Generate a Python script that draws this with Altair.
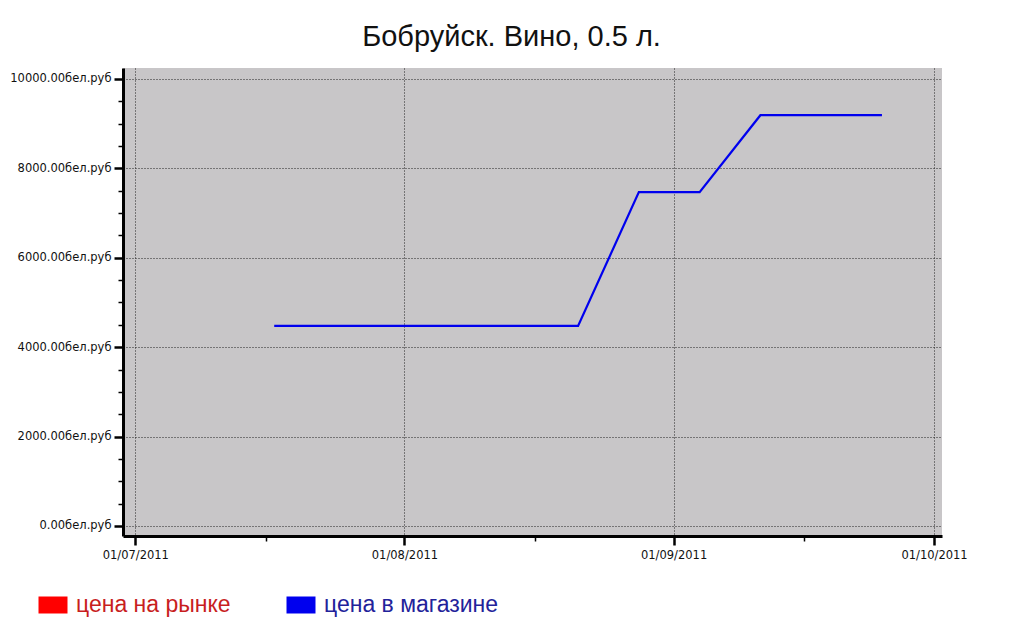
import altair as alt
import pandas as pd

dates = ["2011-07-17", "2011-07-24", "2011-07-31", "2011-08-07", "2011-08-14",
         "2011-08-21", "2011-08-28", "2011-09-04", "2011-09-11", "2011-09-18",
         "2011-09-25"]
shop_prices = [4475, 4475, 4475, 4475, 4475, 4475, 7470, 7470, 9190, 9190, 9190]
series_names = ["цена на рынке", "цена в магазине"]
series_colors = ["#ff0000", "#0000ee"]
title_text = "Бобруйск. Вино, 0.5 л."

df = pd.DataFrame({"date": dates, "price": shop_prices,
                   "series": ["цена в магазине"] * len(dates)})

x_ticks = []
for m in (7, 8, 9):
    x_ticks.append(alt.DateTime(year=2011, month=m, date=1, utc=True))
    x_ticks.append(alt.DateTime(year=2011, month=m, date=16, utc=True))
x_ticks.append(alt.DateTime(year=2011, month=10, date=1, utc=True))

y_ticks = list(range(0, 10001, 500))

x = alt.X(
    "date:T",
    scale=alt.Scale(type="utc", domain=[
        alt.DateTime(year=2011, month=6, date=29, hours=14, utc=True),
        alt.DateTime(year=2011, month=10, date=1, hours=22, utc=True)]),
    axis=alt.Axis(
        title=None, values=x_ticks,
        labelExpr="utcdate(datum.value) === 1 ? utcFormat(datum.value, '%d/%m/%Y') : ''",
        labelFont="DejaVu Sans", labelFontSize=11.5, labelColor="#111",
        labelPadding=4, labelFlush=False, labelOverlap=False,
        tickSize={"expr": "utcdate(datum.value) === 1 ? 9 : 5"},
        tickWidth={"expr": "utcdate(datum.value) === 1 ? 2.5 : 1.5"},
        tickColor="#000", domainColor="#000", domainWidth=3,
        grid=True, gridColor="#222", gridDash=[1, 2], gridWidth=1,
        gridOpacity={"expr": "utcdate(datum.value) === 1 ? 1 : 0"},
    ),
)

y = alt.Y(
    "price:Q",
    scale=alt.Scale(domain=[-224, 10246], nice=False, zero=False),
    axis=alt.Axis(
        title=None, values=y_ticks,
        labelExpr="datum.value % 2000 === 0 ? format(datum.value, '.2f') + 'бел.руб' : ''",
        labelFont="DejaVu Sans", labelFontSize=11.5, labelColor="#111",
        labelPadding=3, labelOverlap=False,
        tickSize={"expr": "datum.value % 2000 === 0 ? 9 : 5"},
        tickWidth={"expr": "datum.value % 2000 === 0 ? 2.5 : 1.5"},
        tickColor="#000", domainColor="#000", domainWidth=3,
        grid=True, gridColor="#222", gridDash=[1, 2], gridWidth=1,
        gridOpacity={"expr": "datum.value % 2000 === 0 ? 1 : 0"},
    ),
)

color = alt.Color(
    "series:N",
    scale=alt.Scale(domain=series_names, range=series_colors),
    legend=alt.Legend(
        title=None, orient="none", direction="horizontal",
        legendX=-93, legendY=514,
        symbolType="M-1,0H1", symbolSize=841, symbolStrokeWidth=17,
        labelFont="Liberation Sans", labelFontSize=23, labelOffset=0,
        columnPadding=21,
        labelColor={"expr": "datum.label === 'цена на рынке' ? '#c81e1e' : '#22229a'"},
        labelLimit=400,
    ),
)

chart = alt.Chart(df).mark_line(strokeWidth=2.2, color="#2222cc").encode(
    x=x, y=y, color=color
).properties(
    width=819, height=468,
    title=alt.TitleParams(title_text, font="Liberation Sans", fontSize=29,
                          fontWeight="normal", color="#111", anchor="middle",
                          dx=-21, offset=16),
    padding={"left": 115, "top": 60, "right": 70, "bottom": 90},
    autosize=alt.AutoSizeParams(type="none"),
).configure(background="white").configure_view(fill="#c8c6c8", strokeWidth=0)

chart.save("out.html", embed_options={"renderer": "svg", "actions": False})
